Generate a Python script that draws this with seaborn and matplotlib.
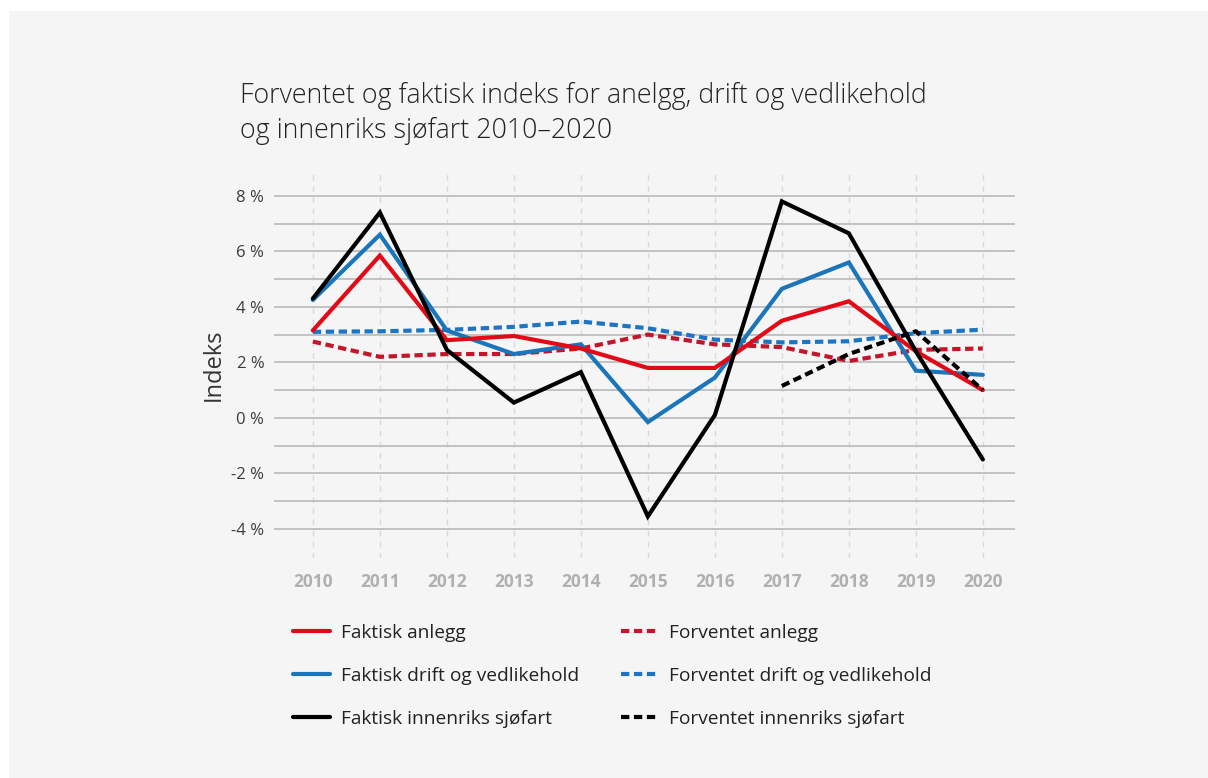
import matplotlib
matplotlib.use("Agg")
import matplotlib.pyplot as plt
from matplotlib.patches import Rectangle
from matplotlib.ticker import FixedLocator, FuncFormatter
import seaborn as sns
import numpy as np

years = [2010, 2011, 2012, 2013, 2014, 2015, 2016, 2017, 2018, 2019, 2020]
faktisk_anlegg = [3.15, 5.85, 2.8, 2.95, 2.5, 1.8, 1.8, 3.5, 4.2, 2.4, 1.0]
faktisk_drift = [4.25, 6.6, 3.15, 2.3, 2.65, -0.15, 1.45, 4.65, 5.6, 1.7, 1.55]
faktisk_sjofart = [4.3, 7.4, 2.45, 0.55, 1.65, -3.55, 0.1, 7.8, 6.65, 2.4, -1.5]
forventet_anlegg = [2.75, 2.2, 2.3, 2.3, 2.5, 3.0, 2.65, 2.55, 2.05, 2.45, 2.5]
forventet_drift = [3.1, 3.12, 3.17, 3.28, 3.47, 3.23, 2.82, 2.72, 2.76, 3.05, 3.18]
years_sjofart_forv = [2017, 2018, 2019, 2020]
forventet_sjofart = [1.15, 2.3, 3.12, 1.0]

labels = ["Faktisk anlegg", "Faktisk drift og vedlikehold", "Faktisk innenriks sjøfart",
          "Forventet anlegg", "Forventet drift og vedlikehold", "Forventet innenriks sjøfart"]

sns.set_theme(style="white")
plt.rcParams['font.family'] = ['Open Sans', 'DejaVu Sans']

BG = "#f5f5f5"
fig = plt.figure(figsize=(12.08, 7.78), dpi=100, facecolor="white")
fig.patches.append(Rectangle((9/1208, 0), 1 - 9/1208, 1 - 11/778, transform=fig.transFigure,
                             facecolor=BG, edgecolor="none", zorder=-10))

ax = fig.add_axes([274/1208, 1 - 558/778, (1015 - 274)/1208, (558 - 172)/778])
ax.set_facecolor(BG)

LW = 3.0
dash = (0, (2.0, 1.1))
series = [
    (years, faktisk_anlegg, "#e30a17", "-", labels[0]),
    (years, faktisk_drift, "#1b75bb", "-", labels[1]),
    (years, faktisk_sjofart, "#000000", "-", labels[2]),
    (years, forventet_anlegg, "#c4162b", dash, labels[3]),
    (years, forventet_drift, "#1b75c4", dash, labels[4]),
    (years_sjofart_forv, forventet_sjofart, "#000000", dash, labels[5]),
]
zorders = [4, 3, 5, 2, 2, 6]
for (x, y, c, ls, lab), z in zip(series, zorders):
    sns.lineplot(x=x, y=y, color=c, linestyle=ls, linewidth=LW, label=lab, ax=ax,
                 zorder=z, solid_joinstyle="miter", dash_capstyle="butt")

ax.set_xlim(2009.42, 2020.48)
ax.set_ylim(-5.05, 8.86)
ax.yaxis.set_major_locator(FixedLocator([-4, -2, 0, 2, 4, 6, 8]))
ax.yaxis.set_minor_locator(FixedLocator([-3, -1, 1, 3, 5, 7]))
ax.set_xticks(years)
ax.set_xticklabels([str(y) for y in years], fontsize=12.5, fontweight="bold", color="#b0b0b0")
ax.yaxis.set_major_formatter(FuncFormatter(lambda v, p: f"{int(v)} %"))
ax.tick_params(axis="y", which="both", length=0, pad=7, labelsize=12, labelcolor="#3c3c3c")
ax.tick_params(axis="x", length=0, pad=11)

ax.grid(axis="y", which="both", color="#c2c2c2", linewidth=1.4, linestyle="-", zorder=0)
ax.grid(axis="x", which="major", color="#d9d9d9", linewidth=1.0, linestyle=(0, (4, 4)), zorder=0)
ax.set_axisbelow(True)
for s in ax.spines.values():
    s.set_visible(False)

ax.set_ylabel("Indeks", fontsize=17, color="#333333")
ax.yaxis.set_label_coords((226 - 274) / 741, 0.5)
ax.set_xlabel("")

fig.text(240/1208, 1 - 82/778, "Forventet og faktisk indeks for anelgg, drift og vedlikehold\nog innenriks sjøfart 2010–2020",
         fontsize=19.3, color="#222222", ha="left", va="top", linespacing=1.33, fontweight="light")

handles, labs = ax.get_legend_handles_labels()
ax.get_legend().remove()
leg = fig.legend(handles, labs, ncol=2, loc="upper left", bbox_to_anchor=(293/1208, 1 - 624/778),
                 frameon=False, fontsize=13.8, handlelength=1.95, handletextpad=0.55,
                 columnspacing=2.2, labelspacing=1.3, borderaxespad=0, borderpad=0)
for t in leg.get_texts():
    t.set_color("#222222")

fig.savefig("out.png", dpi=100, facecolor="white")
